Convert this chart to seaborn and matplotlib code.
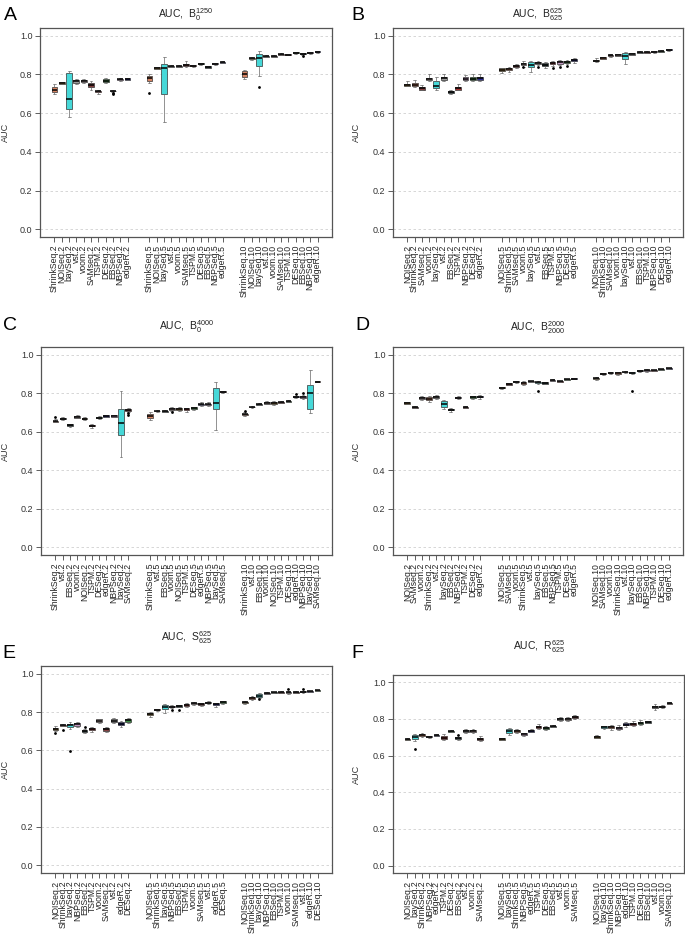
import numpy as np
import pandas as pd
import matplotlib
matplotlib.use("Agg")
import matplotlib.pyplot as plt
import seaborn as sns

sns.set_theme(style="ticks")
plt.rcParams['font.family'] = ['Liberation Sans', 'DejaVu Sans']
plt.rcParams['mathtext.fontset'] = 'custom'
plt.rcParams['mathtext.rm'] = 'Liberation Sans'
plt.rcParams['mathtext.it'] = 'Liberation Sans:italic'

colors = {
    "ShrinkSeq": "#E8794E", "NOISeq": "#B98A2E", "baySeq": "#2EF0F0",
    "vst": "#9C9C9C", "voom": "#C9AEAE", "SAMseq": "#8E3535",
    "TSPM": "#B81E1E", "DESeq": "#2E9A3A", "EBSeq": "#2F4F4F",
    "NBPSeq": "#C890C8", "edgeR": "#1A1AA8",
}
group_suffix = ["2", "5", "10"]
group_offset = [0, 13, 26]

# ---------- Panel A ----------
A_order = ["ShrinkSeq", "NOISeq", "baySeq", "vst", "voom", "SAMseq", "TSPM", "DESeq", "EBSeq", "NBPSeq", "edgeR"]
A_n2 = [[0.697, 0.707, 0.720, 0.733, 0.752], [0.750, 0.753, 0.756, 0.760, 0.763], [0.580, 0.620, 0.675, 0.810, 0.820],
        [0.752, 0.758, 0.765, 0.772, 0.775], [0.758, 0.762, 0.768, 0.772, 0.776], [0.722, 0.735, 0.745, 0.757, 0.765],
        [0.700, 0.708, 0.713, 0.717, 0.720], [0.755, 0.762, 0.768, 0.775, 0.780], [0.708, 0.712, 0.714, 0.716, 0.718],
        [0.768, 0.770, 0.775, 0.778, 0.780], [0.770, 0.772, 0.777, 0.780, 0.782]]
A_n5 = [[0.755, 0.766, 0.780, 0.792, 0.800], [0.828, 0.830, 0.833, 0.836, 0.838], [0.554, 0.697, 0.835, 0.856, 0.890],
        [0.837, 0.839, 0.842, 0.845, 0.847], [0.838, 0.840, 0.843, 0.846, 0.848], [0.838, 0.843, 0.848, 0.853, 0.870],
        [0.840, 0.842, 0.845, 0.848, 0.850], [0.850, 0.852, 0.855, 0.858, 0.860], [0.832, 0.835, 0.838, 0.842, 0.845],
        [0.850, 0.852, 0.855, 0.858, 0.860], [0.857, 0.859, 0.862, 0.865, 0.867]]
A_n10 = [[0.778, 0.789, 0.800, 0.818, 0.823], [0.877, 0.880, 0.883, 0.886, 0.888], [0.790, 0.844, 0.885, 0.908, 0.920],
         [0.888, 0.890, 0.893, 0.896, 0.898], [0.888, 0.890, 0.893, 0.896, 0.898], [0.900, 0.902, 0.905, 0.908, 0.910],
         [0.898, 0.900, 0.903, 0.906, 0.908], [0.907, 0.909, 0.912, 0.915, 0.917], [0.902, 0.905, 0.908, 0.911, 0.913],
         [0.907, 0.909, 0.912, 0.915, 0.917], [0.913, 0.915, 0.918, 0.921, 0.923]]
A_out = [("EBSeq.2", 0.703), ("EBSeq.2", 0.698), ("ShrinkSeq.5", 0.705), ("baySeq.10", 0.735), ("EBSeq.10", 0.893)]

# ---------- Panel B ----------
B_order = ["NOISeq", "ShrinkSeq", "SAMseq", "voom", "baySeq", "vst", "EBSeq", "TSPM", "NBPSeq", "DESeq", "edgeR"]
B_n2 = [[0.738, 0.742, 0.748, 0.752, 0.765], [0.735, 0.740, 0.748, 0.758, 0.770], [0.718, 0.722, 0.728, 0.733, 0.745],
        [0.765, 0.770, 0.778, 0.782, 0.800], [0.720, 0.728, 0.742, 0.765, 0.785], [0.768, 0.773, 0.780, 0.785, 0.800],
        [0.700, 0.705, 0.710, 0.715, 0.722], [0.718, 0.722, 0.728, 0.735, 0.752], [0.765, 0.770, 0.778, 0.785, 0.795],
        [0.765, 0.772, 0.778, 0.785, 0.800], [0.768, 0.773, 0.780, 0.785, 0.800]]
B_n5 = [[0.810, 0.818, 0.825, 0.832, 0.835], [0.815, 0.822, 0.828, 0.835, 0.840], [0.833, 0.838, 0.843, 0.848, 0.852],
        [0.838, 0.847, 0.852, 0.858, 0.868], [0.815, 0.838, 0.850, 0.862, 0.870], [0.850, 0.855, 0.858, 0.862, 0.868],
        [0.832, 0.842, 0.850, 0.857, 0.865], [0.845, 0.852, 0.857, 0.862, 0.868], [0.848, 0.855, 0.862, 0.868, 0.875],
        [0.855, 0.860, 0.866, 0.870, 0.875], [0.860, 0.868, 0.875, 0.880, 0.885]]
B_n10 = [[0.865, 0.868, 0.872, 0.877, 0.885], [0.879, 0.882, 0.885, 0.889, 0.892], [0.891, 0.894, 0.898, 0.902, 0.905],
         [0.894, 0.897, 0.900, 0.905, 0.908], [0.855, 0.880, 0.895, 0.910, 0.915], [0.898, 0.901, 0.905, 0.909, 0.912],
         [0.909, 0.912, 0.915, 0.918, 0.921], [0.909, 0.912, 0.915, 0.918, 0.921], [0.911, 0.914, 0.917, 0.920, 0.923],
         [0.914, 0.917, 0.920, 0.923, 0.926], [0.921, 0.924, 0.927, 0.930, 0.933]]
B_out = [("voom.5", 0.840), ("vst.5", 0.840), ("TSPM.5", 0.835), ("NBPSeq.5", 0.838), ("DESeq.5", 0.845)]

# ---------- Panel C ----------
C_order = ["ShrinkSeq", "vst", "EBSeq", "voom", "NOISeq", "TSPM", "DESeq", "edgeR", "NBPSeq", "baySeq", "SAMseq"]
C_n2 = [[0.648, 0.652, 0.655, 0.658, 0.668], [0.660, 0.665, 0.668, 0.670, 0.675], [0.625, 0.628, 0.633, 0.638, 0.640],
        [0.670, 0.673, 0.678, 0.683, 0.686], [0.661, 0.664, 0.668, 0.672, 0.675], [0.622, 0.629, 0.632, 0.635, 0.638],
        [0.668, 0.670, 0.673, 0.677, 0.680], [0.676, 0.679, 0.683, 0.687, 0.689], [0.675, 0.678, 0.682, 0.686, 0.688],
        [0.470, 0.585, 0.645, 0.720, 0.812], [0.700, 0.708, 0.712, 0.716, 0.722]]
C_n5 = [[0.660, 0.672, 0.682, 0.692, 0.700], [0.704, 0.706, 0.708, 0.710, 0.712], [0.702, 0.704, 0.707, 0.710, 0.712],
        [0.710, 0.715, 0.718, 0.722, 0.728], [0.708, 0.714, 0.718, 0.722, 0.728], [0.705, 0.713, 0.718, 0.722, 0.725],
        [0.715, 0.718, 0.722, 0.726, 0.729], [0.735, 0.739, 0.742, 0.745, 0.755], [0.732, 0.738, 0.742, 0.746, 0.752],
        [0.608, 0.720, 0.750, 0.827, 0.858], [0.803, 0.805, 0.807, 0.810, 0.812]]
C_n10 = [[0.680, 0.687, 0.690, 0.693, 0.700], [0.724, 0.726, 0.728, 0.730, 0.732], [0.738, 0.740, 0.742, 0.745, 0.747],
         [0.742, 0.745, 0.748, 0.752, 0.758], [0.740, 0.744, 0.748, 0.752, 0.758], [0.747, 0.750, 0.753, 0.756, 0.759],
         [0.752, 0.755, 0.758, 0.761, 0.764], [0.775, 0.778, 0.780, 0.783, 0.786], [0.770, 0.776, 0.782, 0.788, 0.790],
         [0.695, 0.720, 0.800, 0.842, 0.918], [0.856, 0.858, 0.860, 0.862, 0.864]]
C_out = [("ShrinkSeq.2", 0.675), ("SAMseq.2", 0.695), ("SAMseq.2", 0.688), ("voom.5", 0.705),
         ("ShrinkSeq.10", 0.710), ("edgeR.10", 0.797), ("NBPSeq.10", 0.800)]

# ---------- Panel D ----------
D_order = ["NOISeq", "SAMseq", "voom", "ShrinkSeq", "vst", "baySeq", "EBSeq", "NBPSeq", "TSPM", "DESeq", "edgeR"]
D_n2 = [[0.742, 0.745, 0.748, 0.752, 0.755], [0.722, 0.725, 0.728, 0.731, 0.734], [0.765, 0.772, 0.775, 0.779, 0.785],
        [0.755, 0.764, 0.770, 0.778, 0.785], [0.770, 0.777, 0.780, 0.784, 0.790], [0.720, 0.730, 0.743, 0.760, 0.765],
        [0.705, 0.711, 0.715, 0.719, 0.722], [0.771, 0.774, 0.777, 0.780, 0.783], [0.722, 0.725, 0.728, 0.731, 0.734],
        [0.772, 0.777, 0.780, 0.783, 0.785], [0.772, 0.778, 0.782, 0.786, 0.790]]
D_n5 = [[0.824, 0.826, 0.828, 0.830, 0.832], [0.842, 0.845, 0.848, 0.851, 0.854], [0.853, 0.856, 0.858, 0.861, 0.863],
        [0.842, 0.849, 0.853, 0.858, 0.862], [0.858, 0.860, 0.862, 0.864, 0.866], [0.848, 0.852, 0.856, 0.860, 0.865],
        [0.847, 0.850, 0.853, 0.857, 0.860], [0.863, 0.865, 0.868, 0.870, 0.872], [0.857, 0.859, 0.862, 0.864, 0.866],
        [0.868, 0.870, 0.872, 0.874, 0.876], [0.872, 0.874, 0.876, 0.878, 0.880]]
D_n10 = [[0.871, 0.874, 0.877, 0.880, 0.883], [0.897, 0.899, 0.902, 0.905, 0.907], [0.900, 0.903, 0.907, 0.910, 0.912],
         [0.897, 0.900, 0.905, 0.909, 0.911], [0.906, 0.908, 0.910, 0.912, 0.914], [0.902, 0.904, 0.907, 0.910, 0.912],
         [0.912, 0.914, 0.917, 0.919, 0.921], [0.912, 0.915, 0.918, 0.921, 0.925], [0.913, 0.915, 0.918, 0.920, 0.922],
         [0.920, 0.922, 0.924, 0.926, 0.928], [0.925, 0.927, 0.929, 0.931, 0.933]]
D_out = [("baySeq.5", 0.812), ("baySeq.10", 0.810)]

# ---------- Panel E ----------
E_order = ["NOISeq", "ShrinkSeq", "baySeq", "NBPSeq", "EBSeq", "TSPM", "voom", "SAMseq", "vst", "edgeR", "DESeq"]
E_n2 = [[0.700, 0.706, 0.712, 0.718, 0.725], [0.725, 0.728, 0.730, 0.733, 0.736], [0.710, 0.720, 0.730, 0.740, 0.748],
        [0.720, 0.728, 0.735, 0.742, 0.748], [0.690, 0.696, 0.700, 0.705, 0.712], [0.698, 0.704, 0.710, 0.716, 0.722],
        [0.742, 0.748, 0.755, 0.762, 0.765], [0.695, 0.703, 0.710, 0.716, 0.722], [0.742, 0.748, 0.755, 0.762, 0.768],
        [0.722, 0.733, 0.740, 0.748, 0.752], [0.742, 0.750, 0.758, 0.766, 0.770]]
E_n5 = [[0.775, 0.784, 0.790, 0.795, 0.800], [0.805, 0.808, 0.812, 0.816, 0.818], [0.795, 0.815, 0.825, 0.835, 0.840],
        [0.822, 0.825, 0.828, 0.832, 0.834], [0.826, 0.828, 0.832, 0.835, 0.837], [0.825, 0.833, 0.838, 0.842, 0.848],
        [0.835, 0.842, 0.845, 0.849, 0.853], [0.833, 0.836, 0.840, 0.845, 0.848], [0.840, 0.845, 0.848, 0.851, 0.855],
        [0.828, 0.835, 0.840, 0.845, 0.848], [0.840, 0.847, 0.852, 0.857, 0.860]]
E_n10 = [[0.840, 0.846, 0.850, 0.854, 0.858], [0.862, 0.868, 0.872, 0.876, 0.885], [0.875, 0.880, 0.886, 0.892, 0.898],
         [0.892, 0.895, 0.897, 0.899, 0.905], [0.898, 0.900, 0.902, 0.904, 0.906], [0.899, 0.901, 0.903, 0.905, 0.907],
         [0.895, 0.899, 0.903, 0.905, 0.908], [0.897, 0.899, 0.902, 0.905, 0.907], [0.899, 0.902, 0.905, 0.907, 0.910],
         [0.904, 0.906, 0.908, 0.910, 0.912], [0.909, 0.911, 0.913, 0.915, 0.917]]
E_out = [("NOISeq.2", 0.692), ("ShrinkSeq.2", 0.705), ("baySeq.2", 0.595), ("EBSeq.2", 0.720), ("NBPSeq.5", 0.808),
         ("EBSeq.5", 0.812), ("baySeq.10", 0.868), ("voom.10", 0.918), ("vst.10", 0.918)]

# ---------- Panel F ----------
F_order = ["NOISeq", "baySeq", "ShrinkSeq", "NBPSeq", "edgeR", "TSPM", "DESeq", "EBSeq", "vst", "voom", "SAMseq"]
F_n2 = [[0.686, 0.688, 0.690, 0.692, 0.694], [0.680, 0.690, 0.700, 0.712, 0.720], [0.700, 0.705, 0.712, 0.718, 0.725],
        [0.697, 0.700, 0.703, 0.707, 0.710], [0.706, 0.709, 0.712, 0.715, 0.718], [0.685, 0.692, 0.698, 0.705, 0.718],
        [0.727, 0.730, 0.733, 0.736, 0.739], [0.688, 0.692, 0.697, 0.700, 0.704], [0.725, 0.730, 0.735, 0.742, 0.745],
        [0.722, 0.728, 0.735, 0.742, 0.748], [0.678, 0.684, 0.690, 0.697, 0.705]]
F_n5 = [[0.684, 0.687, 0.690, 0.694, 0.696], [0.712, 0.725, 0.735, 0.748, 0.752], [0.726, 0.730, 0.735, 0.740, 0.743],
        [0.710, 0.713, 0.718, 0.723, 0.726], [0.728, 0.731, 0.735, 0.740, 0.743], [0.745, 0.750, 0.755, 0.762, 0.772],
        [0.742, 0.746, 0.752, 0.758, 0.761], [0.754, 0.757, 0.760, 0.763, 0.766], [0.790, 0.795, 0.800, 0.806, 0.810],
        [0.790, 0.795, 0.800, 0.806, 0.810], [0.800, 0.807, 0.812, 0.818, 0.822]]
F_n10 = [[0.695, 0.698, 0.703, 0.709, 0.712], [0.746, 0.750, 0.755, 0.760, 0.763], [0.740, 0.750, 0.755, 0.762, 0.770],
         [0.740, 0.748, 0.752, 0.758, 0.765], [0.758, 0.765, 0.770, 0.776, 0.782], [0.762, 0.770, 0.775, 0.780, 0.788],
         [0.768, 0.775, 0.780, 0.786, 0.792], [0.776, 0.780, 0.783, 0.787, 0.790], [0.850, 0.858, 0.865, 0.872, 0.880],
         [0.861, 0.865, 0.868, 0.872, 0.875], [0.880, 0.884, 0.887, 0.890, 0.893]]
F_out = [("baySeq.2", 0.638), ("EBSeq.2", 0.715)]

panels = [
    dict(letter="A", title=r"AUC,  $\mathregular{B_{0}^{1250}}$", order=A_order, stats=[A_n2, A_n5, A_n10], out=A_out,
         rect=(40, 28, 332, 237), title_y=15, letter_xy=(10, 15), ylab_x=10),
    dict(letter="B", title=r"AUC,  $\mathregular{B_{625}^{625}}$", order=B_order, stats=[B_n2, B_n5, B_n10], out=B_out,
         rect=(393, 28, 683, 237), title_y=15, letter_xy=(358, 15), ylab_x=361),
    dict(letter="C", title=r"AUC,  $\mathregular{B_{0}^{4000}}$", order=C_order, stats=[C_n2, C_n5, C_n10], out=C_out,
         rect=(41, 347, 332, 555), title_y=327, letter_xy=(10, 325), ylab_x=10),
    dict(letter="D", title=r"AUC,  $\mathregular{B_{2000}^{2000}}$", order=D_order, stats=[D_n2, D_n5, D_n10], out=D_out,
         rect=(393, 347, 683, 555), title_y=328, letter_xy=(362, 325), ylab_x=361),
    dict(letter="E", title=r"AUC,  $\mathregular{S_{625}^{625}}$", order=E_order, stats=[E_n2, E_n5, E_n10], out=E_out,
         rect=(41, 666, 332, 873), title_y=638, letter_xy=(9, 653), ylab_x=10),
    dict(letter="F", title=r"AUC,  $\mathregular{R_{625}^{625}}$", order=F_order, stats=[F_n2, F_n5, F_n10], out=F_out,
         rect=(393, 675, 684, 873), title_y=647, letter_xy=(357, 653), ylab_x=361),
]

W, H = 685, 936
fig = plt.figure(figsize=(W / 100, H / 100), dpi=100)
fig.patch.set_facecolor("white")

for p in panels:
    l, t, r, b = p["rect"]
    ax = fig.add_axes([l / W, 1 - b / H, (r - l) / W, (b - t) / H])
    rows, labels, positions = [], [], []
    for suf, off, st in zip(group_suffix, group_offset, p["stats"]):
        for i, (m, vals) in enumerate(zip(p["order"], st)):
            pos = off + i + 1
            positions.append(pos)
            labels.append(f"{m}.{suf}")
            for v in vals:
                rows.append((pos, m, v))
    df = pd.DataFrame(rows, columns=["pos", "method", "AUC"])
    pos_of = dict(zip(labels, positions))

    for yv in [0.0, 0.2, 0.4, 0.6, 0.8, 1.0]:
        ax.axhline(yv, color="#d0d0d0", lw=0.6, ls=(0, (3, 3)), zorder=0)

    sns.boxplot(data=df, x="pos", y="AUC", hue="method", palette=colors, native_scale=True,
                dodge=False, whis=(0, 100), width=0.8, linewidth=0.5, linecolor="#333333",
                fliersize=0, legend=False, ax=ax,
                medianprops=dict(color="black", linewidth=1.1),
                whiskerprops=dict(color="#666666", linewidth=0.5),
                capprops=dict(color="#666666", linewidth=0.5))

    ox = [pos_of[k] for k, _ in p["out"]]
    oy = [v for _, v in p["out"]]
    ax.scatter(ox, oy, s=4, color="black", zorder=6, linewidths=0)

    ax.set_xlim(-0.98, 38.98)
    ax.set_ylim(-0.04, 1.04)
    ax.set_xticks(positions)
    ax.set_xticklabels(labels, rotation=90, fontsize=6.2, color="#222222")
    ax.set_yticks([0.0, 0.2, 0.4, 0.6, 0.8, 1.0])
    ax.set_yticklabels(["0.0", "0.2", "0.4", "0.6", "0.8", "1.0"], fontsize=6.5, color="#333333")
    ax.tick_params(axis="both", direction="out", length=3.5, width=0.6, color="#444444", pad=2)
    ax.set_xlabel("")
    ax.set_ylabel("AUC", fontsize=6.5, color="#333333")
    ax.yaxis.set_label_coords((p["ylab_x"] - l) / (r - l), 0.5)
    for s in ax.spines.values():
        s.set_visible(True)
        s.set_color("#555555")
        s.set_linewidth(0.9)
    ax.grid(False)

    fig.text((l + r) / 2 / W, 1 - p["title_y"] / H, p["title"], ha="center", va="center",
             fontsize=7.5, color="#222222")
    fig.text(p["letter_xy"][0] / W, 1 - p["letter_xy"][1] / H, p["letter"], ha="center", va="center",
             fontsize=14, color="black")

fig.savefig("out.png", dpi=100, facecolor="white")
